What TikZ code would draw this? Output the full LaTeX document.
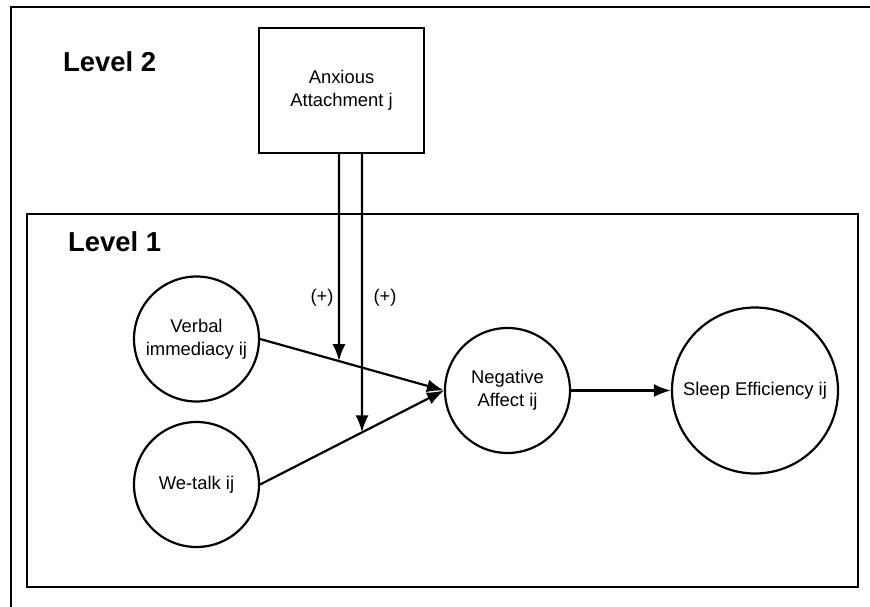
\documentclass[tikz,border=0pt]{standalone}
\usepackage{fontspec}
\setmainfont{Liberation Sans}
\usetikzlibrary{arrows.meta,positioning,calc}
\begin{document}
\begin{tikzpicture}[x=1pt,y=-1pt,
  every node/.style={font=\fontsize{18.4}{22.8}\selectfont, align=center},
  frame/.style={draw, line width=2.6pt},
  var/.style={circle, draw, line width=2.2pt, inner sep=0pt},
  conn/.style={line width=2.2pt, -{Latex[length=17pt,width=13pt]}},
  lvl/.style={font=\fontsize{27.4}{30}\selectfont\bfseries, anchor=base west, inner sep=0pt},
  sign/.style={inner sep=0pt}]
\useasboundingbox (0,0) rectangle (870,607);
\draw[frame] (11,7) rectangle (878,615);
\draw[frame] (27,214) rectangle (858,587);
\node[lvl] (l2) at (63,72) {Level 2};
\node[lvl] (l1) at (68,251) {Level 1};
\node[draw, line width=2.2pt, minimum width=165.5pt, minimum height=124.7pt, inner sep=0pt, fill=white] (anx) at (341.5,90.5) {Anxious\\Attachment j};
\node[var, minimum size=125pt] (verb) at (196.5,339) {Verbal\\immediacy ij};
\node[var, minimum size=125pt] (we) at (196.5,484.5) {We-talk ij};
\node[var, minimum size=125pt] (neg) at (507.5,390.5) {Negative\\Affect ij};
\node[var, minimum size=166pt] (sleep) at (755,390.5) {Sleep Efficiency ij};
\draw[conn] (verb.east) -- (neg.west);
\draw[conn] (we.east) -- (neg.west);
\draw[conn] (neg.east) -- (sleep.west);
\coordinate (a1) at (anx.south -| 339,0);
\coordinate (a2) at (anx.south -| 362,0);
\coordinate (m1) at (intersection of verb.east--neg.west and a1--339,600);
\coordinate (m2) at (intersection of we.east--neg.west and a2--362,600);
\draw[conn] (a1) -- (m1);
\draw[conn] (a2) -- (m2);
\node[sign] (s1) at (322,298) {(+)};
\node[sign] (s2) at (385,298) {(+)};
\end{tikzpicture}
\end{document}
